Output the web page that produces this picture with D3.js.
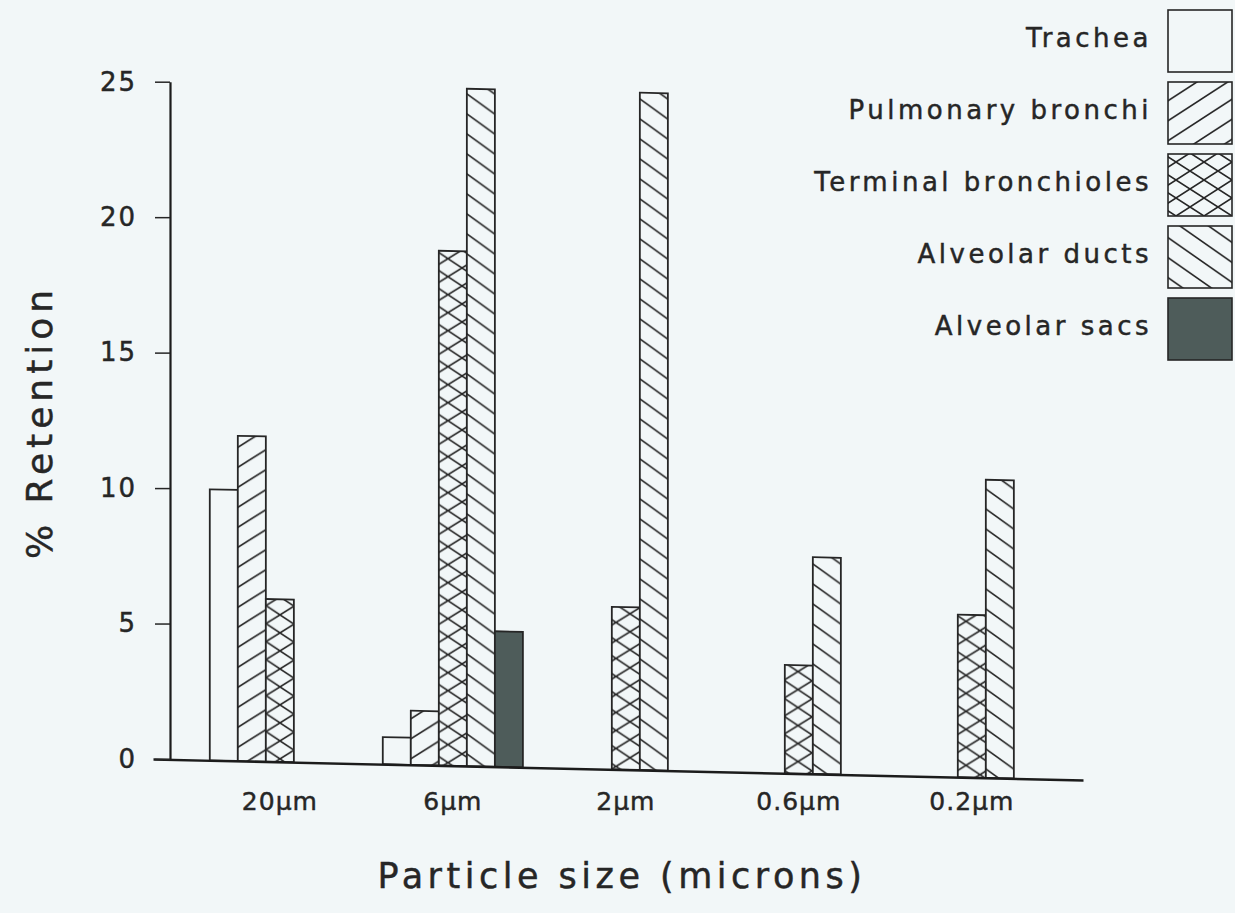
<!DOCTYPE html>
<html><head><meta charset="utf-8">
<script src="https://cdn.jsdelivr.net/npm/d3@7"></script>
<style>
html,body{margin:0;padding:0;background:#f2f7f8;}
svg{display:block;}
text{font-family:"DejaVu Sans",sans-serif;fill:#262626;stroke:#262626;stroke-width:0.45px;}
</style></head><body>
<svg id="chart" width="1235" height="913"></svg>
<script>
// ---- data ----
const sizes = ["20µm","6µm","2µm","0.6µm","0.2µm"];
const regions = ["Trachea","Pulmonary bronchi","Terminal bronchioles","Alveolar ducts","Alveolar sacs"];
const trachea             = [10, 1, null, null, null];
const pulmonaryBronchi    = [12, 2, null, null, null];
const terminalBronchioles = [6, 19, 6, 4, 6];
const alveolarDucts       = [null, 25, 25, 8, 11];
const alveolarSacs        = [null, 5, null, null, null];
const yTicks = [0, 5, 10, 15, 20, 25];
const seriesValues = [trachea, pulmonaryBronchi, terminalBronchioles, alveolarDucts, alveolarSacs];

// ---- styles ----
const bg = "#f2f7f8";
const ink = "#262626";
const sacsColor = "#4e5c5a";
const fills = ["url(#p-open)", "url(#p-fwd)", "url(#p-cross)", "url(#p-back)", sacsColor];

const svg = d3.select("#chart");
svg.append("rect").attr("width",1235).attr("height",913).attr("fill",bg);
const defs = svg.append("defs");

// pattern helpers
function linePattern(id, slope, s, rising) {
  const w = s / slope;
  const p = defs.append("pattern").attr("id", id).attr("patternUnits","userSpaceOnUse")
    .attr("width", w).attr("height", s);
  p.append("rect").attr("width", w).attr("height", s).attr("fill", bg);
  let d = "";
  for (const k of [-1,0,1]) {
    if (rising) d += `M${-w},${2*s + k*s} L${2*w},${-s + k*s} `;
    else d += `M${-w},${-s + k*s} L${2*w},${2*s + k*s} `;
  }
  p.append("path").attr("d", d).attr("stroke", ink).attr("stroke-width", 1.6).attr("fill","none");
}
linePattern("p-fwd", 0.65, 20, true);
linePattern("p-back", 0.70, 20, false);
(function(){
  const w = 28, s = 18;
  const p = defs.append("pattern").attr("id","p-cross").attr("patternUnits","userSpaceOnUse")
    .attr("width", w).attr("height", s);
  p.append("rect").attr("width", w).attr("height", s).attr("fill", bg);
  let d = "";
  for (const k of [-1,0,1]) {
    d += `M${-w},${2*s + k*s} L${2*w},${-s + k*s} `;
    d += `M${-w},${-s + k*s} L${2*w},${2*s + k*s} `;
  }
  p.append("path").attr("d", d).attr("stroke", ink).attr("stroke-width", 1.6).attr("fill","none");
  const o = defs.append("pattern").attr("id","p-open").attr("patternUnits","userSpaceOnUse")
    .attr("width", 10).attr("height", 10);
  o.append("rect").attr("width",10).attr("height",10).attr("fill", bg);
})();

// ---- scales ----
const x = d3.scaleBand().domain(sizes).range([153, 1083])
  .paddingInner(0.19).paddingOuter(0.283).align(0.58);
const xs = d3.scaleBand().domain(regions).range([0, x.bandwidth()]);
const y = d3.scaleLinear().domain([0, 25]).range([759, 81.7]);

// slight slope of the scanned baseline
const k = 21 / 930;
const deg = Math.atan(k) * 180 / Math.PI;
const plot = svg.append("g").attr("transform", `translate(0,${-153 * k}) skewY(${deg})`);

// bars
const barData = [];
regions.forEach((r, i) => sizes.forEach((sz, j) => {
  const v = seriesValues[i][j];
  if (v != null) barData.push({r, i, sz, v});
}));
plot.selectAll("rect.bar").data(barData).join("rect").attr("class","bar")
  .attr("x", d => x(d.sz) + xs(d.r))
  .attr("y", d => y(d.v))
  .attr("width", xs.bandwidth())
  .attr("height", d => y(0) - y(d.v))
  .attr("fill", d => fills[d.i])
  .attr("stroke", ink).attr("stroke-width", 1.8);

// x axis line
const xAxisLine = plot.append("g").attr("transform", `translate(0,${y(0)})`)
  .call(d3.axisBottom(x).tickSize(0).tickSizeOuter(0).tickFormat(""));
xAxisLine.select(".domain").attr("stroke", "#1c1c1c").attr("stroke-width", 2.4);

// x tick labels
const xLab = svg.append("g").attr("transform", `translate(0,${y(0)})`)
  .call(d3.axisBottom(x).tickSize(0).tickPadding(33));
xLab.select(".domain").remove();
xLab.selectAll("text").attr("font-size", 25).attr("font-family", '"DejaVu Sans",sans-serif')
  .attr("fill", "#262626").style("letter-spacing","1px");

// y axis
const yAx = svg.append("g").attr("transform", `translate(170,0)`)
  .call(d3.axisLeft(y).tickValues(yTicks).tickSize(15).tickSizeOuter(0).tickPadding(18));
yAx.select(".domain").attr("stroke", "#1c1c1c").attr("stroke-width", 2.2);
yAx.selectAll(".tick line").attr("stroke", "#262626").attr("stroke-width", 1.5);
yAx.selectAll("text").attr("font-size", 26).attr("font-family", '"DejaVu Sans",sans-serif')
  .attr("fill", "#262626").style("letter-spacing","2px");

// axis titles
svg.append("text").attr("x", 622).attr("y", 888).attr("text-anchor","middle")
  .attr("font-size", 35).style("letter-spacing","4.5px").text("Particle size (microns)");
svg.append("text").attr("transform","translate(52,422) rotate(-90)").attr("text-anchor","middle")
  .attr("font-size", 36).style("letter-spacing","5px").text("% Retention");

// legend
const ly = d3.scalePoint().domain(regions).range([10, 298]);
const leg = svg.append("g");
leg.selectAll("rect").data(regions).join("rect")
  .attr("x", 1168).attr("y", d => ly(d)).attr("width", 64).attr("height", 62)
  .attr("fill", (d, i) => fills[i]).attr("stroke", ink).attr("stroke-width", 1.6);
leg.selectAll("text").data(regions).join("text")
  .attr("x", 1152).attr("y", d => ly(d) + 37).attr("text-anchor","end")
  .attr("font-size", 26).style("letter-spacing","3.5px").text(d => d);
</script>
</body></html>
